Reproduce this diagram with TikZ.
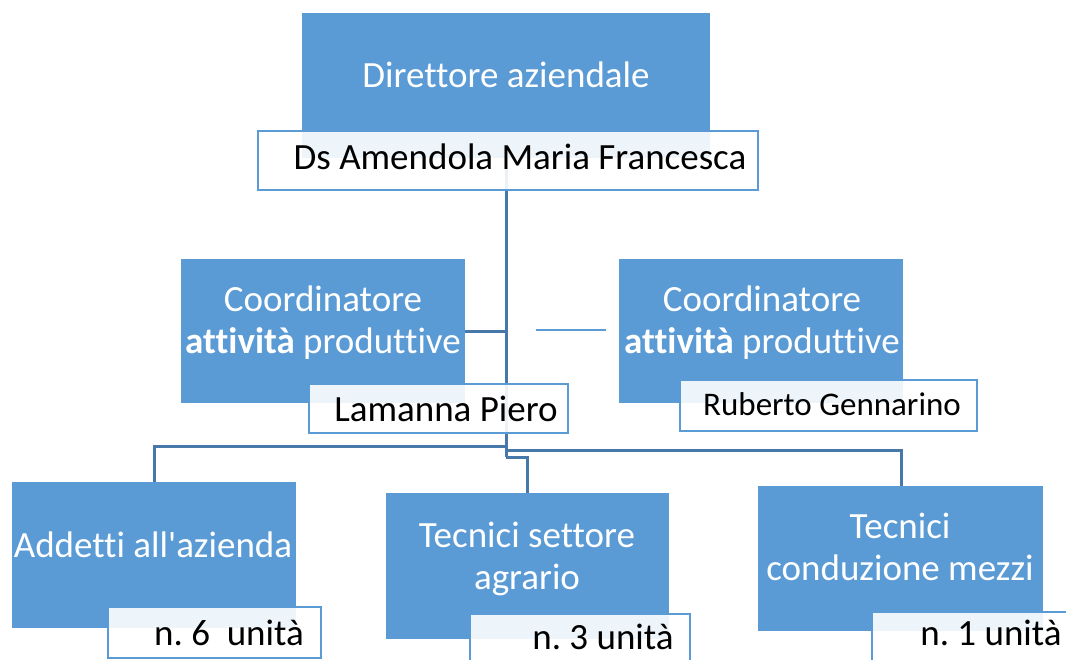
\documentclass[tikz,border=0pt]{standalone}
\usepackage{fontspec}
\setmainfont{Carlito}[Ligatures={NoCommon}]
\newfontfamily\plainapos{Carlito}[Ligatures={NoCommon}]
\definecolor{boxblue}{RGB}{91,155,213}
\definecolor{linkblue}{RGB}{70,120,170}
\tikzset{
  bluebox/.style={draw=none, fill=boxblue, inner sep=0pt, anchor=north west},
  namebox/.style={draw=boxblue, line width=2pt, fill=white, fill opacity=0.9, inner sep=0pt, anchor=north west},
  wtext/.style={text=white, inner sep=0pt, anchor=base, font=\fontsize{37}{42}\selectfont, align=center},
  btext/.style={text=black, inner sep=0pt, anchor=base, font=\fontsize{37}{42}\selectfont},
  link/.style={draw=linkblue, line width=3pt},
  thinlink/.style={draw=boxblue, line width=1.5pt}
}
\frenchspacing
\begin{document}
\begin{tikzpicture}[x=1pt,y=-1pt]
\useasboundingbox (0,0) rectangle (1066,660);
\clip (0,0) rectangle (1066,660);
% blue boxes
\node[bluebox, minimum width=408pt, minimum height=145pt] (dir) at (302,13) {};
\node[bluebox, minimum width=284pt, minimum height=144pt] (lc) at (181,259) {};
\node[bluebox, minimum width=284pt, minimum height=144pt] (rc) at (619,259) {};
\node[bluebox, minimum width=284pt, minimum height=146pt] (add) at (12,482) {};
\node[bluebox, minimum width=283pt, minimum height=146pt] (tsa) at (386,493) {};
\node[bluebox, minimum width=285pt, minimum height=145pt] (tcm) at (758,486) {};
% connector coordinates
\coordinate (trunkA) at (506,446);
\coordinate (trunkB) at (506,450);
\coordinate (trunkC) at (506,457);
\coordinate (fl1) at (536,330);
\coordinate (fl2) at (606,330);
% connectors
\draw[link] (dir.south -| trunkA) -- (trunkC);
\draw[link] (lc.east) -- (lc.east -| trunkA);
\draw[thinlink] (fl1) -- (fl2);
\draw[link] (trunkA) -- (trunkA -| add.north) -- (add.north);
\draw[link] (trunkB) -- (trunkB -| 901,0) -- (901,486);
\draw[link] (trunkC) -- (trunkC -| tsa.north) -- (tsa.north);
% name boxes
\node[namebox, minimum width=500pt, minimum height=59pt] (dirn) at (257,130) {};
\node[namebox, minimum width=259pt, minimum height=49pt] (lcn) at (308,383) {};
\node[namebox, minimum width=297pt, minimum height=51pt] (rcn) at (679,379) {};
\node[namebox, minimum width=213pt, minimum height=51pt] (addn) at (107,606) {};
\node[namebox, minimum width=220pt, minimum height=60pt] (tsan) at (469,613) {};
\node[namebox, minimum width=220pt, minimum height=60pt] (tcmn) at (871,611) {};
% texts
\node[wtext] (t1) at (506,88) {Direttore aziendale};
\node[btext] (t2) at (520,170) {Ds Amendola Maria Francesca};
\node[wtext] (t3) at (323,354) {Coordinatore\\\textbf{attività} produttive};
\node[btext] (t4) at (446,421) {Lamanna Piero};
\node[wtext] (t5) at (762,354) {Coordinatore\\\textbf{attività} produttive};
\node[btext, font=\fontsize{33}{38}\selectfont] (t6) at (832,415) {Ruberto Gennarino};
\node[wtext] (t7) at (153,557) {Addetti all{\plainapos\char"0027}azienda};
\node[wtext] (t8) at (527,589) {Tecnici settore\\agrario};
\node[wtext] (t9) at (900,580) {Tecnici\\conduzione mezzi};
\node[btext] (t10) at (229,645) {n. 6\ \ unità};
\node[btext] (t11) at (603,649) {n. 3 unità};
\node[btext] (t12) at (991,645) {n. 1 unità};
\end{tikzpicture}
\end{document}
